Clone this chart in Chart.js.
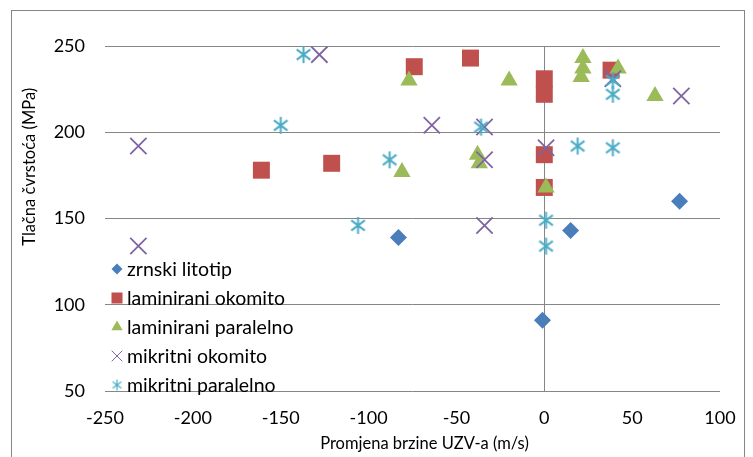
<!DOCTYPE html>
<html>
<head>
<meta charset="utf-8">
<script src="https://cdn.jsdelivr.net/npm/chart.js@4/dist/chart.umd.min.js"></script>
<style>
  body { margin: 0; background: #fff; }
  canvas { display: block; }
</style>
</head>
<body>
<canvas id="chart" width="753" height="457"></canvas>
<script>
// data
const seriesNames = ['zrnski litotip', 'laminirani okomito', 'laminirani paralelno', 'mikritni okomito', 'mikritni paralelno'];

const zrnskiX = [-83, 77, 15, -1];
const zrnskiY = [139, 160, 143, 91];

const lamOkomitoX = [-161, -121, -74, -42, 0, 0, 0, 0, 38];
const lamOkomitoY = [178, 182, 238, 243, 231, 222, 187, 168, 236];

const lamParalelnoX = [-77, -81, -38, -37, -20, 22, 22, 21, 42, 63, 1];
const lamParalelnoY = [230, 177, 187, 182, 230, 243, 237, 232, 237, 221, 168];

const mikOkomitoX = [-231, -231, -128, -64, -34, -34, -34, 1, 78, 39];
const mikOkomitoY = [192, 134, 245, 204, 203, 184, 146, 191, 221, 231];

const mikParalelnoX = [-137, -150, -88, -36, -106, 19, 39, 1, 1, 39, 39];
const mikParalelnoY = [245, 204, 184, 203, 146, 192, 191, 149, 134, 230, 222];

// axis ranges
const xMin = -250, xMax = 100, xStep = 50;
const yMin = 50, yMax = 250, yStep = 50;

const xTitle = 'Promjena brzine UZV-a (m/s)';
const yTitle = 'Tlačna čvrstoća (MPa)';

const FONT = 'Lato, "Liberation Sans", sans-serif';
const gridColor = '#868686';

// Excel style asterisk marker (vertical bar + X)
function makeAsterisk(size, color, lw) {
    const c = document.createElement('canvas');
    c.width = size; c.height = size;
    const g = c.getContext('2d');
    const m = size / 2, r = size / 2 - 1, d = r * 0.8;
    g.strokeStyle = color;
    g.lineWidth = lw;
    g.beginPath();
    g.moveTo(m, m - r); g.lineTo(m, m + r);
    g.moveTo(m - d, m - d * 0.75); g.lineTo(m + d, m + d * 0.75);
    g.moveTo(m - d, m + d * 0.75); g.lineTo(m + d, m - d * 0.75);
    g.stroke();
    return c;
}
const asterisk = makeAsterisk(19, '#4BACC6', 2);
const asteriskSmall = makeAsterisk(13, '#4BACC6', 1.2);

function toPoints(xs, ys) {
    return xs.map((x, i) => ({x: x, y: ys[i]}));
}

const datasets = [
    {label: seriesNames[0], data: toPoints(zrnskiX, zrnskiY), pointStyle: 'rectRot', pointRadius: 8.5,
     backgroundColor: '#4A7EBB', borderColor: '#4A7EBB', borderWidth: 0, order: 4},
    {label: seriesNames[1], data: toPoints(lamOkomitoX, lamOkomitoY), pointStyle: 'rect', pointRadius: 12,
     backgroundColor: '#C0504D', borderColor: '#C0504D', borderWidth: 0, order: 3},
    {label: seriesNames[2], data: toPoints(lamParalelnoX, lamParalelnoY), pointStyle: 'triangle', pointRadius: 10,
     backgroundColor: '#9BBB59', borderColor: '#9BBB59', borderWidth: 0, order: 2},
    {label: seriesNames[3], data: toPoints(mikOkomitoX, mikOkomitoY), pointStyle: 'crossRot', pointRadius: 11.5,
     backgroundColor: '#8064A2', borderColor: '#8064A2', borderWidth: 1.8, order: 1},
    {label: seriesNames[4], data: toPoints(mikParalelnoX, mikParalelnoY), pointStyle: asterisk, pointRadius: 9,
     backgroundColor: '#4BACC6', borderColor: '#4BACC6', borderWidth: 2, order: 0}
];

// legend sits inside the plot, bottom left, like the excel one
const insideLegend = {
    id: 'insideLegend',
    afterDraw(chart) {
        const ctx = chart.ctx;
        const area = chart.chartArea;
        const left = area.left + 12;
        const top = area.top + 223;
        const gap = 29;
        ctx.save();
        ctx.font = '19.5px ' + FONT;
        ctx.textBaseline = 'middle';
        ctx.textAlign = 'left';
        chart.data.datasets.forEach((ds, i) => {
            const y = top + i * gap;
            ctx.fillStyle = ds.backgroundColor;
            ctx.strokeStyle = ds.borderColor;
            if (ds.pointStyle === asterisk) {
                ctx.drawImage(asteriskSmall, left - 6.5, y - 6.5);
            } else {
                Chart.helpers.drawPoint(ctx, {
                    pointStyle: ds.pointStyle,
                    radius: ds.pointRadius * 0.65,
                    borderWidth: ds.pointStyle === 'crossRot' ? 1.2 : 0,
                    rotation: 0
                }, left, y);
            }
            ctx.fillStyle = '#000';
            ctx.fillText(ds.label, left + 10, y + 1);
        });
        ctx.restore();
    }
};

// axis titles and the outer frame of the chart
const frameAndTitles = {
    id: 'frameAndTitles',
    afterDraw(chart) {
        const ctx = chart.ctx;
        const area = chart.chartArea;
        ctx.save();
        ctx.strokeStyle = '#868686';
        ctx.lineWidth = 1;
        ctx.strokeRect(11.5, 10.5, 733, 470);
        ctx.font = '16.5px ' + FONT;
        ctx.fillStyle = '#000';
        ctx.textAlign = 'center';
        ctx.textBaseline = 'middle';
        ctx.fillText(xTitle, (area.left + area.right) / 2 + 12, area.bottom + 53);
        ctx.translate(30, area.top + (area.bottom - area.top) * 0.35);
        ctx.rotate(-Math.PI / 2);
        ctx.fillText(yTitle, 0, 0);
        ctx.restore();
    }
};

new Chart(document.getElementById('chart'), {
    type: 'scatter',
    data: {datasets: datasets},
    options: {
        responsive: false,
        animation: false,
        layout: {padding: {left: 0, top: 46, right: 33, bottom: 0}},
        plugins: {
            legend: {display: false},
            tooltip: {enabled: false}
        },
        scales: {
            x: {
                type: 'linear',
                min: xMin, max: xMax,
                border: {display: false},
                grid: {
                    drawTicks: false,
                    color: (c) => (c.tick && c.tick.value === 0) ? gridColor : 'rgba(0,0,0,0)'
                },
                ticks: {stepSize: xStep, padding: 16, color: '#000', font: {size: 18, family: FONT}},
                afterFit: (scale) => { scale.height = 66; }
            },
            y: {
                type: 'linear',
                min: yMin, max: yMax,
                border: {display: false},
                grid: {drawTicks: false, color: gridColor},
                ticks: {stepSize: yStep, padding: 20, color: '#000', font: {size: 18, family: FONT}},
                afterFit: (scale) => { scale.width = 105; }
            }
        }
    },
    plugins: [insideLegend, frameAndTitles]
});
</script>
</body>
</html>
